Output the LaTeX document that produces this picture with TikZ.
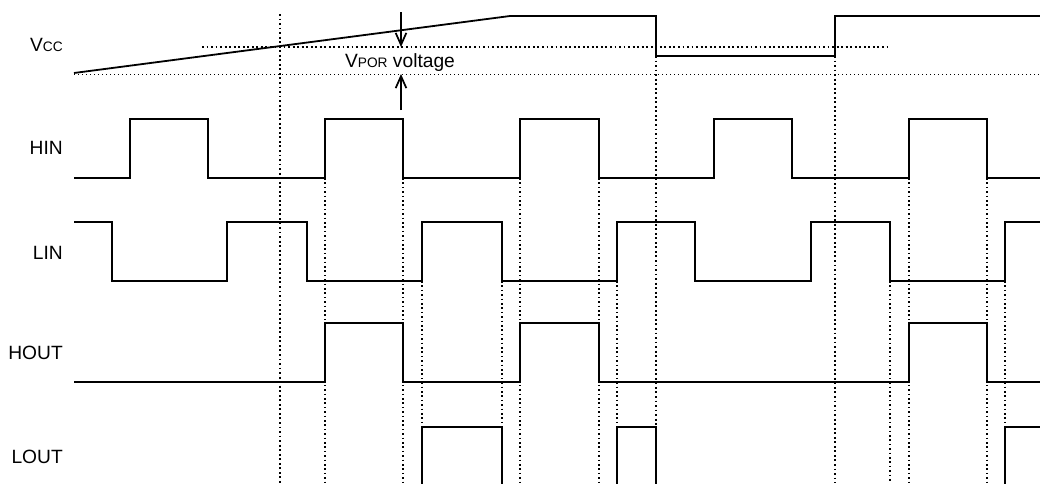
\documentclass[tikz,border=0pt]{standalone}
\usepackage{fontspec}
\setmainfont{Liberation Sans}
\usetikzlibrary{arrows.meta}
\newcommand\lowcaps[1]{{\fontsize{10.3}{11}\selectfont #1}}
\begin{document}
\begin{tikzpicture}[x=0.75pt,y=-0.75pt,
 wave/.style={line width=1.35pt, line join=miter},
 guide/.style={line width=1.4pt, dash pattern=on 1.4pt off 2pt},
 edgeline/.style={line width=1.2pt, dash pattern=on 1.2pt off 2.1pt},
 thinline/.style={line width=0.6pt, dash pattern=on 0.6pt off 2.4pt},
 lbl/.style={anchor=base east, inner sep=0pt, font=\fontsize{14.4}{16}\selectfont},
 dim/.style={line width=1.3pt, -{Straight Barb[length=9pt,width=8pt]}}]
\useasboundingbox (0,0) rectangle (1040,483);
% labels
\node[lbl] (vcc) at (63,51) {V\lowcaps{CC}};
\node[lbl] (hin) at (63,154) {HIN};
\node[lbl] (lin) at (63,259) {LIN};
\node[lbl] (hout) at (63,359) {HOUT};
\node[lbl] (lout) at (63,463) {LOUT};
\node[anchor=base, inner sep=0pt, font=\fontsize{14.4}{16}\selectfont] (vpor) at (400,67) {V\lowcaps{POR} voltage};
% guides
\draw[thinline] (74,74) -- (1040,74);
\draw[guide] (202,47) -- (890,47);
\draw[guide] (280,14) -- (280,483);
\draw[guide] (656,56) -- (656,483);
\draw[guide] (835,56) -- (835,483);
\foreach \x in {325,403,520,599,909,987} \draw[edgeline] (\x,178) -- (\x,483);
\foreach \x in {422,502,617,1005} \draw[edgeline] (\x,281) -- (\x,427);
\draw[edgeline] (890,281) -- (890,483);
% dimension arrows
\coordinate (at) at (401,12);
\coordinate (ah) at (401,47);
\coordinate (bt) at (401,110);
\coordinate (bh) at (401,74);
\draw[dim] (at) -- (ah);
\draw[dim] (bt) -- (bh);
% Vcc
\draw[wave] (74,73) -- (510,16) -- (656,16) -- (656,56) -- (835,56) -- (835,16) -- (1040,16);
% HIN
\draw[wave] (74,178) -- (130,178) -- (130,119) -- (208,119) -- (208,178) -- (325,178) -- (325,119) -- (403,119) -- (403,178) -- (520,178) -- (520,119) -- (599,119) -- (599,178) -- (714,178) -- (714,119) -- (792,119) -- (792,178) -- (909,178) -- (909,119) -- (987,119) -- (987,178) -- (1040,178);
% LIN
\draw[wave] (74,222) -- (112,222) -- (112,281) -- (227,281) -- (227,222) -- (307,222) -- (307,281) -- (422,281) -- (422,222) -- (502,222) -- (502,281) -- (617,281) -- (617,222) -- (695,222) -- (695,281) -- (811,281) -- (811,222) -- (890,222) -- (890,281) -- (1005,281) -- (1005,222) -- (1040,222);
% HOUT
\draw[wave] (74,382) -- (325,382) -- (325,323) -- (403,323) -- (403,382) -- (520,382) -- (520,323) -- (599,323) -- (599,382) -- (909,382) -- (909,323) -- (987,323) -- (987,382) -- (1040,382);
% LOUT
\draw[wave] (422,484) -- (422,427) -- (502,427) -- (502,484);
\draw[wave] (617,484) -- (617,427) -- (656,427) -- (656,484);
\draw[wave] (1005,484) -- (1005,427) -- (1040,427);
\end{tikzpicture}
\end{document}
